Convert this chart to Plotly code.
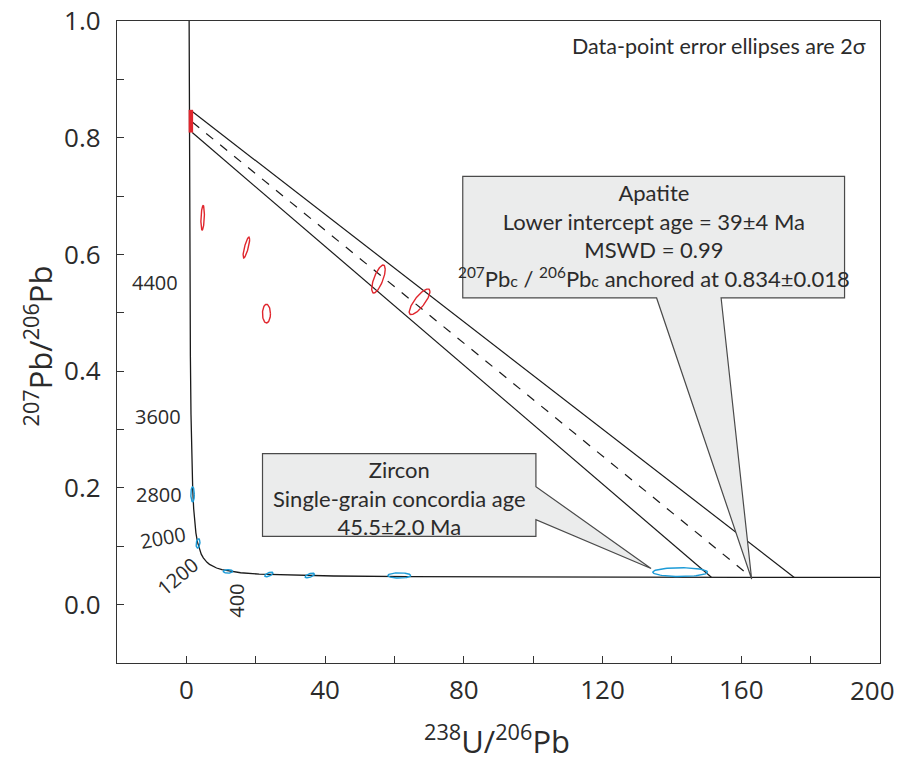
import numpy as np
import plotly.graph_objects as go

# ---------------- data ----------------
# Concordia curve (Tera-Wasserburg)
conc_x = [0.7951, 0.8533, 0.9045, 0.9604, 1.0217, 1.0888, 1.1629, 1.3372, 1.5557, 1.6874,
          1.838, 2.111, 2.394, 2.749, 3.206, 3.817, 4.292, 4.888, 5.374, 5.959, 6.674,
          7.568, 8.718, 10.25, 15.62, 20.99, 31.73, 42.48, 63.97, 91.59, 128.43, 160.66, 200.95]
conc_y = [1.009, 0.8454, 0.7347, 0.6394, 0.5572, 0.4863, 0.4249, 0.3264, 0.2524, 0.2227,
          0.1968, 0.1643, 0.1419, 0.1230, 0.1071, 0.0936, 0.0865, 0.0801, 0.0762, 0.0725, 0.0691,
          0.0658, 0.0628, 0.0599, 0.0547, 0.0523, 0.0501, 0.0491, 0.0480, 0.0474, 0.0470, 0.0468, 0.0467]

# Concordia age labels (Ma)
age_labels = ["4400", "3600", "2800", "2000", "1200", "400"]
age_label_x = [-9.1, -8.3, -8.0, -6.6, -2.5, 14.5]
age_label_y = [0.552, 0.323, 0.189, 0.115, 0.048, 0.006]
age_label_angle = [0, 0, 0, -10, -40, -90]

# Apatite discordia (anchored common-Pb) : start y at x~0 and lower-intercept x
disc_start_x = [1.7, 1.7, 1.7]
disc_start_y = [0.845, 0.827, 0.809]
disc_end_x = [175.3, 163.0, 151.4]
disc_end_y = [0.0466, 0.0467, 0.0469]
disc_dash = ["solid", "dash", "solid"]

# common Pb anchor bar
anchor_x = [1.3, 1.3]
anchor_y = [0.809, 0.848]

# Apatite error ellipses (centre, half extents, correlation)
apatite_x = [4.7, 17.3, 23.1, 55.4, 67.25]
apatite_y = [0.663, 0.612, 0.4987, 0.558, 0.519]
apatite_sx = [0.5, 0.95, 1.15, 1.95, 3.0]
apatite_sy = [0.021, 0.018, 0.016, 0.024, 0.022]
apatite_rho = [0.3, 0.8, 0.0, 0.7, 0.8]

# Zircon error ellipses
zircon_x = [1.8, 3.37, 12.0, 23.8, 35.6, 61.4, 142.4]
zircon_y = [0.189, 0.105, 0.057, 0.0518, 0.050, 0.050, 0.0557]
zircon_sx = [0.5, 0.55, 1.35, 1.2, 1.35, 3.3, 7.9]
zircon_sy = [0.013, 0.008, 0.0030, 0.004, 0.004, 0.0045, 0.0075]
zircon_rho = [0.0, 0.3, 0.0, 0.6, 0.6, 0.0, 0.0]

x_ticks = [0, 40, 80, 120, 160, 200]
x_tick_labels = ["0", "40", "80", "120", "160", "200"]
y_ticks = [0.0, 0.2, 0.4, 0.6, 0.8, 1.0]

RED = "#e0262d"
BLUE = "#1c9bd7"
BOXFILL = "#ebecec"
BOXLINE = "#4a4a4a"
TXT = "#2b2b2b"
TICKFONT = dict(family="Open Sans, sans-serif", size=26, color=TXT)

fig = go.Figure()

# concordia
fig.add_trace(go.Scatter(x=conc_x, y=conc_y, mode="lines",
                         line=dict(color="#1a1a1a", width=1.3), hoverinfo="skip"))

# discordia lines
for sx, sy, ex, ey, d in zip(disc_start_x, disc_start_y, disc_end_x, disc_end_y, disc_dash):
    fig.add_trace(go.Scatter(x=[sx, ex], y=[sy, ey], mode="lines",
                             line=dict(color="#1a1a1a", width=1.2, dash=d), hoverinfo="skip"))

# anchor bar
fig.add_trace(go.Scatter(x=anchor_x, y=anchor_y, mode="lines",
                         line=dict(color=RED, width=4.5), hoverinfo="skip"))

t = np.linspace(0, 2 * np.pi, 80)


def add_ellipses(xs, ys, sxs, sys_, rhos, color):
    for cx, cy, a, b, r in zip(xs, ys, sxs, sys_, rhos):
        ex = cx + a * np.cos(t)
        ey = cy + b * (r * np.cos(t) + np.sqrt(1 - r * r) * np.sin(t))
        fig.add_trace(go.Scatter(x=ex, y=ey, mode="lines",
                                 line=dict(color=color, width=1.4), hoverinfo="skip"))


add_ellipses(apatite_x, apatite_y, apatite_sx, apatite_sy, apatite_rho, RED)
add_ellipses(zircon_x, zircon_y, zircon_sx, zircon_sy, zircon_rho, BLUE)

# callout boxes (data coordinates)
zircon_box = "M 21.96,0.2588 L 100.8,0.2588 L 100.8,0.2022 L 134.0,0.062 L 100.8,0.1457 L 100.8,0.117 L 21.96,0.117 Z"
apatite_box = "M 79.7,0.734 L 189.8,0.734 L 189.8,0.5256 L 154.2,0.5256 L 163.0,0.044 L 135.6,0.5256 L 79.7,0.5256 Z"
for p in (zircon_box, apatite_box):
    fig.add_shape(type="path", path=p, xref="x", yref="y",
                  fillcolor=BOXFILL, line=dict(color=BOXLINE, width=1.2), layer="above")

BOXFONT = dict(family="Lato, Open Sans, sans-serif", size=22, color=TXT)

fig.add_annotation(x=61.4, y=0.183, xref="x", yref="y", showarrow=False,
                   text="Zircon<br>Single-grain concordia age<br>45.5±2.0 Ma",
                   font=BOXFONT, align="center")

pbc = '<span style="font-size:16px">c</span>'
fig.add_annotation(x=134.8, y=0.632, xref="x", yref="y", showarrow=False,
                   text=("Apatite<br>Lower intercept age = 39±4 Ma<br>MSWD = 0.99<br>"
                         f"<sup>207</sup>Pb{pbc} / <sup>206</sup>Pb{pbc} anchored at 0.834±0.018"),
                   font=BOXFONT, align="center")

fig.add_annotation(x=196.5, y=0.957, xref="x", yref="y", showarrow=False,
                   xanchor="right", text="Data-point error ellipses are 2σ",
                   font=dict(family="Lato, Open Sans, sans-serif", size=21.5, color=TXT))

for lab, lx, ly, ang in zip(age_labels, age_label_x, age_label_y, age_label_angle):
    fig.add_annotation(x=lx, y=ly, xref="x", yref="y", showarrow=False, text=lab,
                       textangle=ang,
                       font=dict(family="Open Sans, sans-serif", size=20, color=TXT))

# last x tick label kept inside the page (drawn as annotation right-aligned at the edge)
fig.add_annotation(x=1.0223, y=-0.0414, xref="paper", yref="paper", showarrow=False,
                   text=x_tick_labels[-1], xanchor="right", yanchor="middle",
                   font=TICKFONT)

# axis titles
fig.add_annotation(x=0.498, y=-0.119, xref="paper", yref="paper", showarrow=False,
                   text="<sup>238</sup>U/<sup>206</sup>Pb", yanchor="middle",
                   font=dict(family="Open Sans, sans-serif", size=31, color=TXT))
fig.add_annotation(x=-0.1035, y=0.493, xref="paper", yref="paper", showarrow=False,
                   text="<sup>207</sup>Pb/<sup>206</sup>Pb", textangle=-90, xanchor="center",
                   font=dict(family="Open Sans, sans-serif", size=31, color=TXT))

axis_common = dict(showgrid=False, zeroline=False, showline=True, linecolor="#333333",
                   linewidth=1.4, mirror=True, ticks="inside", ticklen=7, tickwidth=1.2,
                   tickcolor="#333333", automargin=False,
                   tickfont=TICKFONT)

fig.update_xaxes(range=[-20, 200.02], tickvals=x_ticks,
                 ticktext=x_tick_labels[:-1] + [""],
                 minor=dict(dtick=20, tick0=0, ticks="inside", ticklen=7, tickwidth=1.2,
                            tickcolor="#333333"),
                 ticklabelstandoff=4, **axis_common)
fig.update_yaxes(range=[-0.1, 1.0002], tickvals=y_ticks, tickformat=".1f",
                 minor=dict(dtick=0.1, tick0=0, ticks="inside", ticklen=7, tickwidth=1.2,
                            tickcolor="#333333"),
                 ticklabelstandoff=10, **axis_common)

fig.update_layout(width=898, height=763, showlegend=False,
                  margin=dict(l=117, r=18, t=21, b=100, autoexpand=False),
                  plot_bgcolor="white", paper_bgcolor="white")

fig.write_html("out.html")
